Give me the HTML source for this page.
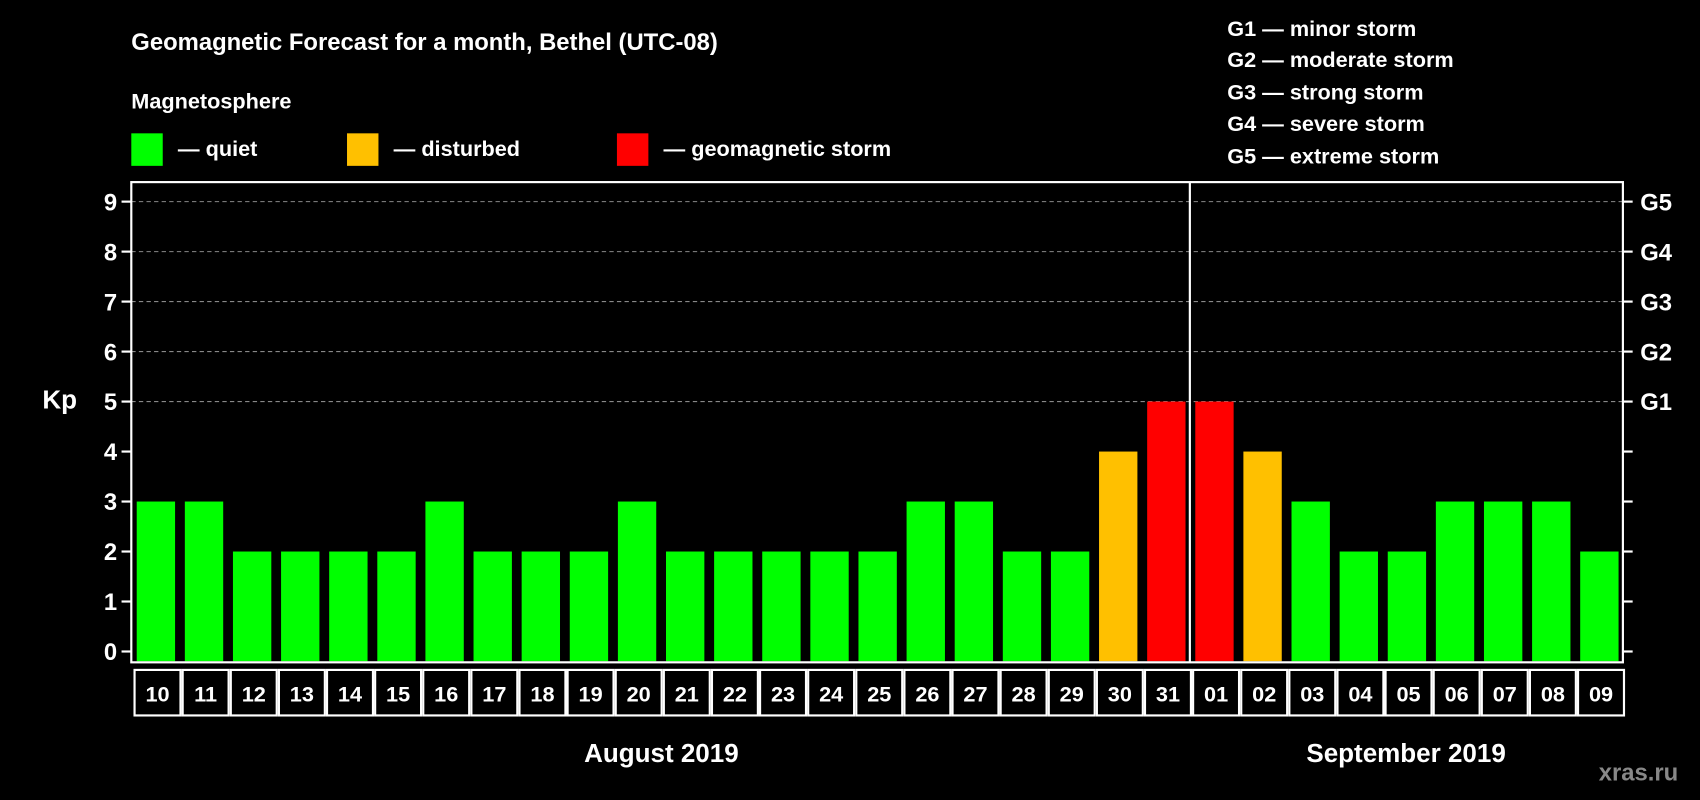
<!DOCTYPE html>
<html><head><meta charset="utf-8"><style>
html,body{margin:0;padding:0;background:#000;}
svg{display:block;font-family:"Liberation Sans",Arial,sans-serif;font-weight:bold;}
</style></head><body>
<svg id="chart" width="1700" height="800" viewBox="0 0 1568 738" xmlns="http://www.w3.org/2000/svg">
<rect width="1568" height="738" fill="#000"/>
<text x="121" y="46" fill="#fff" font-size="22">Geomagnetic Forecast for a month, Bethel (UTC-08)</text>
<text x="121" y="100" fill="#fff" font-size="20">Magnetosphere</text>
<g><rect x="121" y="123" width="29" height="30" fill="#00ff00"/><text x="164" y="144" fill="#fff" font-size="20">— quiet</text></g>
<g><rect x="320" y="123" width="29" height="30" fill="#ffc000"/><text x="363" y="144" fill="#fff" font-size="20">— disturbed</text></g>
<g><rect x="569" y="123" width="29" height="30" fill="#ff0000"/><text x="612" y="144" fill="#fff" font-size="20">— geomagnetic storm</text></g>
<g fill="#fff" font-size="20">
<text x="1132" y="33">G1 — minor storm</text>
<text x="1132" y="62">G2 — moderate storm</text>
<text x="1132" y="92">G3 — strong storm</text>
<text x="1132" y="121">G4 — severe storm</text>
<text x="1132" y="151">G5 — extreme storm</text>
</g>
<text x="39" y="377" fill="#fff" font-size="24">Kp</text>
<g id="grid"></g><g id="bars"></g><g id="axes"></g><g id="dates"></g>
<rect x="121" y="168" width="1376" height="443" fill="none" stroke="#fff" stroke-width="2"/>
<text x="610" y="703" fill="#fff" font-size="24" text-anchor="middle">August 2019</text>
<text x="1297" y="703" fill="#fff" font-size="24" text-anchor="middle">September 2019</text>
<text x="1548" y="720" fill="#888" font-size="22" text-anchor="end">xras.ru</text>
</svg>
<script>
const days = ["10","11","12","13","14","15","16","17","18","19","20","21","22","23","24","25","26","27","28","29","30","31","01","02","03","04","05","06","07","08","09"];
const kpValues = [3,3,2,2,2,2,3,2,2,2,3,2,2,2,2,2,3,3,2,2,4,5,5,4,3,2,2,3,3,3,2];
const yTicks = [0,1,2,3,4,5,6,7,8,9];
const gLabels = ["","","","","","G1","G2","G3","G4","G5"];
const monthBreak = 22;

const NS="http://www.w3.org/2000/svg";
const L=121,R=1497,Y0=601,Y9=186;
const slot=(R-L)/days.length;
const y=v=>Y0-(Y0-Y9)*v/9;
const x=i=>L+i*slot;
function mk(tag,attrs,parent){const e=document.createElementNS(NS,tag);for(const k in attrs)e.setAttribute(k,attrs[k]);document.getElementById(parent).appendChild(e);return e;}
yTicks.forEach((t,i)=>{
  if(t>=5){const g=mk('line',{x1:L,x2:R,y1:y(t),y2:y(t),stroke:'#888','stroke-dasharray':'4,3','stroke-width':1},'grid');
  
  }
  const tl=mk('line',{x1:L-9,x2:L,y1:y(t),y2:y(t),stroke:'#fff','stroke-width':2},'axes');
  
  
  const tr=mk('line',{x1:R,x2:R+9,y1:y(t),y2:y(t),stroke:'#fff','stroke-width':2},'axes');
  
  
  const lb=mk('text',{x:L-13,y:y(t)+8,fill:'#fff','font-size':22,'text-anchor':'end'},'axes');
  lb.textContent=t;
  
  
  if(gLabels[i]){const gl=mk('text',{x:R+16,y:y(t)+8,fill:'#fff','font-size':22},'axes');
  gl.textContent=gLabels[i];
  
  }
});
kpValues.forEach((v,i)=>{
  const c=v>=5?'#ff0000':(v>=4?'#ffc000':'#00ff00');
  const b=mk('rect',{x:x(i)+5,y:y(v),width:slot-9,height:Y0-y(v)+9,fill:c},'bars');
  
  
  const d=mk('rect',{x:x(i)+3,y:618,width:slot-2,height:42,fill:'none',stroke:'#fff','stroke-width':2},'dates');
  
  
  const t=mk('text',{x:x(i)+slot/2+2,y:647,fill:'#fff','font-size':20,'text-anchor':'middle'},'dates');
  t.textContent=days[i];
  
  
});
const ml=mk('line',{x1:x(monthBreak),x2:x(monthBreak),y1:168,y2:611,stroke:'#fff','stroke-width':2},'axes');


</script>
</body></html>
